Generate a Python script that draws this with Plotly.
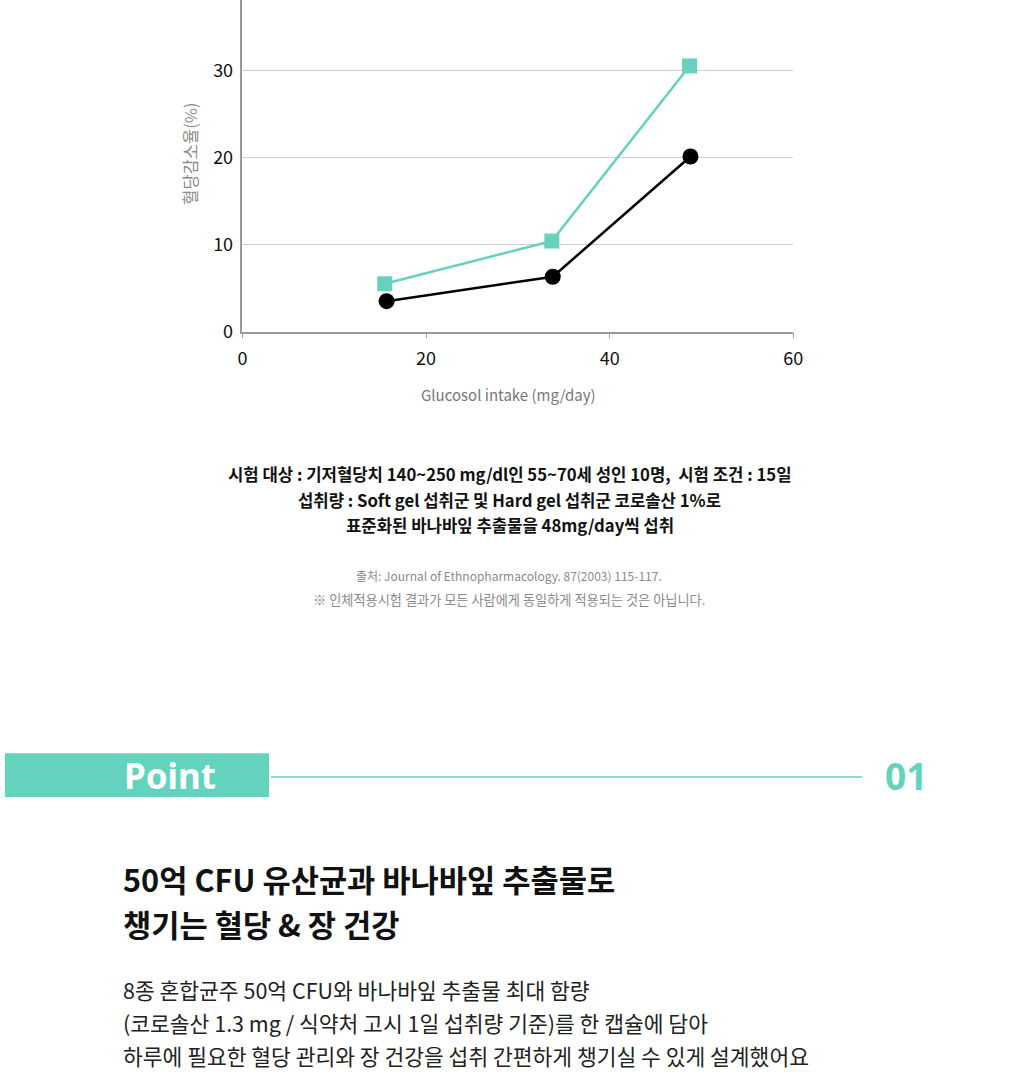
import plotly.graph_objects as go

# ---- data ----
dose_soft = [15.5, 33.7, 48.7]
reduction_soft = [5.5, 10.4, 30.5]
dose_hard = [15.7, 33.8, 48.8]
reduction_hard = [3.5, 6.3, 20.1]
x_ticks = [0, 20, 40, 60]
y_ticks = [0, 10, 20, 30]

W, H = 1024, 1092
KR = "Noto Sans CJK KR"
TEAL = "#63D3BE"

def px(x):
    return x / W

def py(y):
    return 1 - y / H

fig = go.Figure()
fig.add_trace(go.Scatter(x=dose_soft, y=reduction_soft, mode="lines+markers",
                         line=dict(color="#66D2BE", width=2.5),
                         marker=dict(symbol="square", size=15, color="#66D2BE"),
                         showlegend=False))
fig.add_trace(go.Scatter(x=dose_hard, y=reduction_hard, mode="lines+markers",
                         line=dict(color="#000000", width=2.5),
                         marker=dict(symbol="circle", size=16, color="#000000"),
                         showlegend=False))

fig.update_layout(
    width=W, height=H,
    margin=dict(l=0, r=0, t=0, b=0),
    paper_bgcolor="white", plot_bgcolor="white",
    font=dict(family=KR, color="#111"),
    xaxis=dict(domain=[px(241), px(800)], range=[0, 60], tickvals=x_ticks,
               showgrid=False, zeroline=False, showline=True, linecolor="#9a9a9a",
               linewidth=1.5, ticks="outside", ticklen=5, tickcolor="#9a9a9a",
               tickfont=dict(size=18, color="#111", family=KR), ticklabelstandoff=5),
    yaxis=dict(domain=[py(335), 1], range=[0, 335 / 8.8], tickvals=y_ticks,
               showgrid=True, gridcolor="#cfcfcf", gridwidth=1.2, zeroline=False,
               showline=True, linecolor="#9a9a9a", linewidth=1.5, ticks="",
               tickfont=dict(size=18, color="#111", family=KR), ticklabelstandoff=4),
)

ann = []
def text(x, y, s, size, color="#111", bold=False, xanchor="center", family=KR, angle=0):
    ann.append(dict(x=px(x), y=py(y), xref="paper", yref="paper", text=s,
                    showarrow=False, xanchor=xanchor, yanchor="middle", textangle=angle,
                    font=dict(size=size, color=color, family=family,
                              weight="bold" if bold else "normal")))

text(188, 155, "혈당감소율(%)", 16.5, color="#8a8a8a", angle=-90)
text(511, 399, "Glucosol intake (mg/day)", 15, color="#777")

text(512, 479, "시험 대상 : 기저혈당치 140~250 mg/dl인 55~70세 성인 10명,  시험 조건 : 15일", 16.7, bold=True)
text(512, 505, "섭취량 : Soft gel 섭취군 및 Hard gel 섭취군 코로솔산 1%로", 16.7, bold=True)
text(512, 530, "표준화된 바나바잎 추출물을 48mg/day씩 섭취", 16.7, bold=True)
text(511, 581, "출처: Journal of Ethnopharmacology. 87(2003) 115-117.", 12, color="#8a8a8a")
text(511, 606, "※ 인체적용시험 결과가 모든 사람에게 동일하게 적용되는 것은 아닙니다.", 13.2, color="#8a8a8a")

text(167, 783, "Point", 35, color="white", bold=True, family="Noto Sans")
text(914, 783, "01", 37, color=TEAL, bold=True, family="Noto Sans")

text(118, 887, "50억 CFU 유산균과 바나바잎 추출물로", 30.7, bold=True, xanchor="left")
text(118, 933, "챙기는 혈당 & 장 건강", 30.7, bold=True, xanchor="left")
text(118, 1000, "8종 혼합균주 50억 CFU와 바나바잎 추출물 최대 함량", 21.5, color="#222", xanchor="left")
text(118, 1033, "(코로솔산 1.3 mg / 식약처 고시 1일 섭취량 기준)를 한 캡슐에 담아", 21.5, color="#222", xanchor="left")
text(118, 1066, "하루에 필요한 혈당 관리와 장 건강을 섭취 간편하게 챙기실 수 있게 설계했어요", 21.5, color="#222", xanchor="left")

fig.update_layout(annotations=ann)

fig.add_shape(type="rect", xref="paper", yref="paper", x0=px(0), x1=px(268),
              y0=py(805), y1=py(761), fillcolor=TEAL, line=dict(width=0))
fig.add_shape(type="line", xref="paper", yref="paper", x0=px(270), x1=px(870),
              y0=py(785), y1=py(785), line=dict(color=TEAL, width=1.5))

fig.write_html("out.html")
